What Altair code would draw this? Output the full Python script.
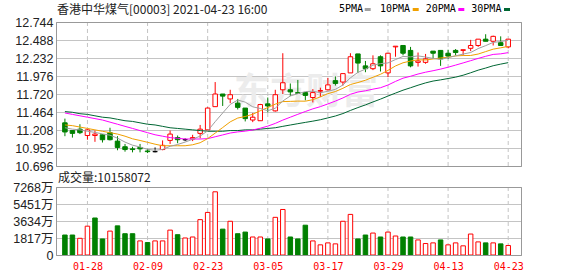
import altair as alt
import pandas as pd

title_text = "香港中华煤气[00003] 2021-04-23 16:00"
vol_text = "成交量:10158072"
watermark = "东方财富"

dates = ["01-25", "01-26", "01-27", "01-28", "01-29",
         "02-01", "02-02", "02-03", "02-04", "02-05",
         "02-08", "02-09", "02-10", "02-11", "02-16",
         "02-17", "02-18", "02-19", "02-22", "02-23",
         "02-24", "02-25", "02-26", "03-01", "03-02",
         "03-03", "03-04", "03-05", "03-08", "03-09",
         "03-10", "03-11", "03-12", "03-15", "03-16",
         "03-17", "03-18", "03-19", "03-22", "03-23",
         "03-24", "03-25", "03-26", "03-29", "03-30",
         "03-31", "04-01", "04-07", "04-08", "04-09",
         "04-12", "04-13", "04-14", "04-15", "04-16",
         "04-19", "04-20", "04-21", "04-22", "04-23"]

opens = [11.31, 11.20, 11.22, 11.13, 11.13, 11.14, 11.17, 11.05, 10.97, 10.94,
         10.96, 10.91, 10.90, 10.93, 11.06, 11.10, 11.07, 11.08, 11.16, 11.21,
         11.54, 11.72, 11.65, 11.59, 11.52, 11.35, 11.34, 11.58, 11.48, 11.78,
         11.78, 11.74, 11.74, 11.67, 11.76, 11.78, 11.91, 11.89, 12.02, 12.29,
         12.12, 12.08, 12.25, 12.02, 12.39, 12.41, 12.34, 12.17, 12.17, 12.33,
         12.34, 12.30, 12.34, 12.34, 12.37, 12.41, 12.50, 12.47, 12.45, 12.39]
highs = [11.37, 11.20, 11.29, 11.22, 11.20, 11.15, 11.24, 11.12, 11.01, 10.97,
         11.01, 10.94, 10.96, 11.06, 11.20, 11.13, 11.09, 11.14, 11.28, 11.53,
         11.89, 11.72, 11.78, 11.65, 11.52, 11.45, 11.58, 11.67, 11.78, 12.30,
         11.87, 11.92, 11.74, 11.79, 11.81, 11.95, 11.97, 12.01, 12.30, 12.29,
         12.19, 12.27, 12.27, 12.30, 12.40, 12.41, 12.39, 12.31, 12.29, 12.33,
         12.34, 12.35, 12.36, 12.35, 12.49, 12.50, 12.57, 12.55, 12.54, 12.50]
lows = [11.12, 11.10, 11.15, 11.07, 11.04, 11.03, 11.06, 10.92, 10.90, 10.89,
        10.89, 10.88, 10.89, 10.92, 11.01, 11.02, 11.05, 11.05, 11.09, 11.20,
        11.54, 11.55, 11.59, 11.50, 11.33, 11.32, 11.34, 11.46, 11.47, 11.72,
        11.69, 11.73, 11.63, 11.60, 11.68, 11.77, 11.84, 11.84, 12.02, 12.02,
        12.03, 12.06, 12.04, 11.96, 12.25, 12.27, 12.10, 12.11, 12.15, 12.22,
        12.12, 12.22, 12.27, 12.27, 12.33, 12.39, 12.47, 12.41, 12.41, 12.37]
closes = [11.18, 11.16, 11.17, 11.21, 11.15, 11.07, 11.07, 10.96, 10.93, 10.93,
          10.94, 10.90, 10.90, 10.99, 11.15, 11.07, 11.07, 11.10, 11.22, 11.52,
          11.72, 11.69, 11.71, 11.53, 11.37, 11.39, 11.57, 11.55, 11.71, 11.88,
          11.75, 11.73, 11.70, 11.74, 11.77, 11.85, 11.87, 12.01, 12.25, 12.16,
          12.08, 12.15, 12.12, 12.30, 12.40, 12.30, 12.12, 12.19, 12.22, 12.30,
          12.22, 12.26, 12.31, 12.35, 12.41, 12.50, 12.47, 12.54, 12.41, 12.50]

ma5 = [11.24, 11.22, 11.21, 11.19, 11.174, 11.152, 11.134, 11.092, 11.036, 10.992,
       10.966, 10.932, 10.92, 10.932, 10.976, 11.002, 11.036, 11.076, 11.122, 11.196,
       11.326, 11.45, 11.572, 11.634, 11.604, 11.538, 11.514, 11.482, 11.518, 11.62,
       11.692, 11.724, 11.754, 11.76, 11.738, 11.758, 11.786, 11.848, 11.95, 12.028,
       12.074, 12.13, 12.152, 12.162, 12.21, 12.254, 12.248, 12.262, 12.246, 12.226,
       12.21, 12.238, 12.262, 12.288, 12.31, 12.366, 12.408, 12.454, 12.466, 12.484]
ma10 = [11.28, 11.27, 11.25, 11.23, 11.21, 11.19, 11.17, 11.15, 11.12, 11.083,
        11.059, 11.033, 11.006, 10.984, 10.984, 10.984, 10.984, 10.998, 11.027, 11.086,
        11.164, 11.243, 11.324, 11.378, 11.40, 11.432, 11.482, 11.527, 11.576, 11.612,
        11.615, 11.619, 11.618, 11.639, 11.679, 11.725, 11.755, 11.801, 11.855, 11.883,
        11.916, 11.958, 12.00, 12.056, 12.119, 12.164, 12.189, 12.207, 12.204, 12.218,
        12.232, 12.243, 12.262, 12.267, 12.268, 12.288, 12.323, 12.358, 12.377, 12.397]
ma20 = [11.45, 11.43, 11.41, 11.39, 11.37, 11.35, 11.32, 11.29, 11.26, 11.23,
        11.20, 11.17, 11.14, 11.12, 11.10, 11.09, 11.08, 11.08, 11.08, 11.085,
        11.112, 11.138, 11.165, 11.181, 11.192, 11.208, 11.233, 11.263, 11.302, 11.349,
        11.39, 11.431, 11.471, 11.509, 11.54, 11.579, 11.619, 11.664, 11.716, 11.748,
        11.766, 11.789, 11.809, 11.848, 11.899, 11.945, 11.972, 12.004, 12.03, 12.051,
        12.074, 12.101, 12.131, 12.162, 12.194, 12.226, 12.256, 12.283, 12.291, 12.308]
ma30 = [11.47, 11.46, 11.44, 11.43, 11.41, 11.39, 11.38, 11.36, 11.34, 11.33,
        11.31, 11.29, 11.28, 11.26, 11.24, 11.23, 11.22, 11.21, 11.20, 11.19,
        11.19, 11.19, 11.20, 11.20, 11.21, 11.21, 11.22, 11.23, 11.24, 11.26,
        11.279, 11.298, 11.316, 11.334, 11.354, 11.38, 11.407, 11.442, 11.486, 11.527,
        11.565, 11.607, 11.647, 11.691, 11.733, 11.774, 11.809, 11.845, 11.878, 11.904,
        11.921, 11.94, 11.96, 11.987, 12.022, 12.059, 12.089, 12.122, 12.145, 12.166]

vol_wan = [2135, 2135, 1785, 3080, 3955, 1715, 2555, 3115, 2275, 2275,
           1505, 1330, 1505, 1505, 2660, 2170, 1820, 1925, 3780, 4550,
           6755, 2765, 3605, 2275, 2450, 1925, 1925, 1715, 4025, 4865,
           1925, 1715, 3185, 1505, 1085, 1295, 1190, 3605, 4340, 1715,
           2135, 2345, 1925, 2450, 2030, 1925, 1925, 1610, 1225, 1295,
           1610, 1085, 1295, 980, 2240, 1400, 1295, 1295, 1190, 1015.8]
vol_up = [0, 0, 1, 1, 0, 0, 1, 0, 0, 0,
          1, 0, 1, 1, 1, 0, 1, 1, 1, 1,
          1, 0, 1, 0, 0, 1, 1, 0, 1, 1,
          0, 0, 0, 1, 1, 1, 1, 1, 1, 0,
          0, 1, 0, 1, 1, 0, 0, 1, 1, 1,
          0, 1, 1, 1, 1, 1, 0, 1, 0, 1]

tick_idx = [3, 11, 19, 27, 35, 43, 51, 59]
tick_labels = [dates[i] for i in tick_idx]
price_ticks = [10.696, 10.952, 11.208, 11.464, 11.720, 11.976, 12.232, 12.488, 12.744]
vol_ticks = [0, 1817, 3634, 5451, 7268]

ma_names = ["5PMA", "10PMA", "20PMA", "30PMA"]
ma_colors = ["#a0a0a0", "#f0a000", "#ff00ff", "#006633"]
ma_series = [ma5, ma10, ma20, ma30]

RED = "#ff0000"
GREEN = "#008000"
GRID = "#c4c4c4"
FRAME = "#999999"
FONT_NUM = "Liberation Sans, Noto Sans CJK SC"
FONT_CJK = "Noto Sans CJK SC"
FONT_MONO = "DejaVu Sans Mono"
W, H_TOP, H_VOL = 466, 144, 68

n = len(dates)
df = pd.DataFrame({
    "idx": list(range(n)), "date": dates, "open": opens, "high": highs,
    "low": lows, "close": closes, "vol": vol_wan,
})
df["dir"] = ["up" if c > o else ("down" if c < o else "flat") for o, c in zip(opens, closes)]
df["vdir"] = ["up" if u else "down" for u in vol_up]

xscale = alt.Scale(domain=[-0.52, 60.17], nice=False, zero=False)
yscale = alt.Scale(domain=[10.696, 12.744], nice=False, zero=False)
vscale = alt.Scale(domain=[0, 7268], nice=False)
stroke_scale = alt.Scale(domain=["up", "down", "flat"], range=[RED, GREEN, "#000000"])
fill_scale = alt.Scale(domain=["up", "down", "flat"], range=["#ffffff", GREEN, "#000000"])

label_expr = "".join(f"datum.value == {i} ? '{lab}' : " for i, lab in zip(tick_idx, tick_labels)) + "''"
vol_label_expr = "datum.value == 0 ? '0' : format(datum.value, 'd') + '万'"

top_x_axis = alt.Axis(values=tick_idx, labels=False, grid=False)
top_y_axis = alt.Axis(values=price_ticks, format=".3f", grid=False)
vol_x_axis = alt.Axis(values=tick_idx, labelExpr=label_expr, labelColor=RED, labelFont=FONT_MONO,
                      labelFontSize=10, labelPadding=6, grid=False)
vol_y_axis = alt.Axis(values=vol_ticks, labelExpr=vol_label_expr, grid=False)

X_top = alt.X("idx:Q", scale=xscale, title=None, axis=top_x_axis)

base = alt.Chart(df)
one = pd.DataFrame({"k": [0]})

hgrid_top = alt.Chart(pd.DataFrame({"p": price_ticks})).mark_rule(
    stroke=GRID, strokeWidth=1, yOffset=0.5).encode(
    y=alt.Y("p:Q", scale=yscale, title=None, axis=top_y_axis))
vgrid_top = alt.Chart(pd.DataFrame({"i": tick_idx})).mark_rule(
    stroke=GRID, strokeWidth=1, strokeDash=[4, 3]).encode(
    x=alt.X("i:Q", scale=xscale, title=None, axis=top_x_axis))
frame_top = alt.Chart(one).mark_rect(fill="transparent", stroke=FRAME, strokeWidth=1).encode(
    x=alt.value(0.5), x2=alt.value(W - 0.5), y=alt.value(0.5), y2=alt.value(H_TOP + 0.5))

wm = alt.Chart(pd.DataFrame({"t": [watermark]})).mark_text(
    font=FONT_CJK, fontSize=36, fontWeight="bold", color="#ececec", align="center", baseline="middle"
).encode(x=alt.value(250), y=alt.value(71), text="t:N")

wicks = base.mark_rule(strokeWidth=1).encode(
    x=X_top,
    y=alt.Y("low:Q", scale=yscale, title=None, axis=top_y_axis),
    y2="high:Q",
    stroke=alt.Stroke("dir:N", scale=stroke_scale, legend=None),
)
bodies = base.mark_bar(size=4.5, strokeWidth=1).encode(
    x=X_top,
    y=alt.Y("open:Q", scale=yscale, title=None, axis=top_y_axis),
    y2="close:Q",
    fill=alt.Fill("dir:N", scale=fill_scale, legend=None),
    stroke=alt.Stroke("dir:N", scale=stroke_scale, legend=None),
)

ma_layers = []
for name, col, vals in reversed(list(zip(ma_names, ma_colors, ma_series))):
    mdf = pd.DataFrame({"idx": list(range(n)), "v": vals})
    ma_layers.append(alt.Chart(mdf).mark_line(color=col, strokeWidth=1).encode(
        x=X_top,
        y=alt.Y("v:Q", scale=yscale, title=None, axis=top_y_axis),
    ))

title_layer = alt.Chart(pd.DataFrame({"t": [title_text]})).mark_text(
    font=FONT_CJK, fontSize=12, color="#222222", align="left", baseline="middle"
).encode(x=alt.value(1), y=alt.value(-12.5), text="t:N")

legend_text_x = [283, 324, 369.7, 415.3]
legend_sw_x = [308.7, 356.7, 402.3, 448]
legend_layers = []
for name, col, tx, sx in zip(ma_names, ma_colors, legend_text_x, legend_sw_x):
    ldf = pd.DataFrame({"t": [name]})
    legend_layers.append(alt.Chart(ldf).mark_text(
        font=FONT_MONO, fontSize=10, color="#000000", align="left", baseline="middle"
    ).encode(x=alt.value(tx), y=alt.value(-12.7), text="t:N"))
    legend_layers.append(alt.Chart(ldf).mark_rect(color=col).encode(
        x=alt.value(sx), x2=alt.value(sx + 6), y=alt.value(-14), y2=alt.value(-11)))

top = alt.layer(
    hgrid_top, vgrid_top, wm, wicks, bodies, *ma_layers, frame_top, title_layer, *legend_layers
).properties(width=W, height=H_TOP)

hgrid_vol = alt.Chart(pd.DataFrame({"v": vol_ticks})).mark_rule(
    stroke=GRID, strokeWidth=1, yOffset=0.5).encode(
    y=alt.Y("v:Q", scale=vscale, title=None, axis=vol_y_axis))
vgrid_vol = alt.Chart(pd.DataFrame({"i": tick_idx})).mark_rule(
    stroke=GRID, strokeWidth=1, strokeDash=[4, 3]).encode(
    x=alt.X("i:Q", scale=xscale, title=None, axis=vol_x_axis))
frame_vol = alt.Chart(one).mark_rect(fill="transparent", stroke=FRAME, strokeWidth=1).encode(
    x=alt.value(0.5), x2=alt.value(W - 0.5), y=alt.value(0.5), y2=alt.value(H_VOL + 0.5))

vol_bars = base.mark_bar(size=4.5, strokeWidth=1).encode(
    x=alt.X("idx:Q", scale=xscale, title=None, axis=vol_x_axis),
    y=alt.Y("vol:Q", scale=vscale, title=None, axis=vol_y_axis),
    fill=alt.Fill("vdir:N", scale=alt.Scale(domain=["up", "down"], range=["#ffffff", GREEN]), legend=None),
    stroke=alt.Stroke("vdir:N", scale=alt.Scale(domain=["up", "down"], range=[RED, GREEN]), legend=None),
)
vol_title = alt.Chart(pd.DataFrame({"t": [vol_text]})).mark_text(
    font=FONT_CJK, fontSize=12, color="#222222", align="left", baseline="middle"
).encode(x=alt.value(2), y=alt.value(-9), text="t:N")

vol = alt.layer(hgrid_vol, vgrid_vol, vol_bars, frame_vol, vol_title).properties(width=W, height=H_VOL)

chart = alt.vconcat(top, vol, spacing=21, bounds="flush").properties(
    padding={"left": 0, "top": 3, "right": 4, "bottom": 2},
    background="#ffffff",
).configure_view(
    stroke=None
).configure_axis(
    grid=False, ticks=False, domain=False, labelOverlap=False, labelFlush=False,
    labelFont=FONT_NUM, labelFontSize=12.5, labelColor="#222222",
).configure_axisY(
    labelPadding=3, minExtent=56, maxExtent=56,
)

chart.save("out.html", embed_options={"renderer": "svg", "actions": False})
